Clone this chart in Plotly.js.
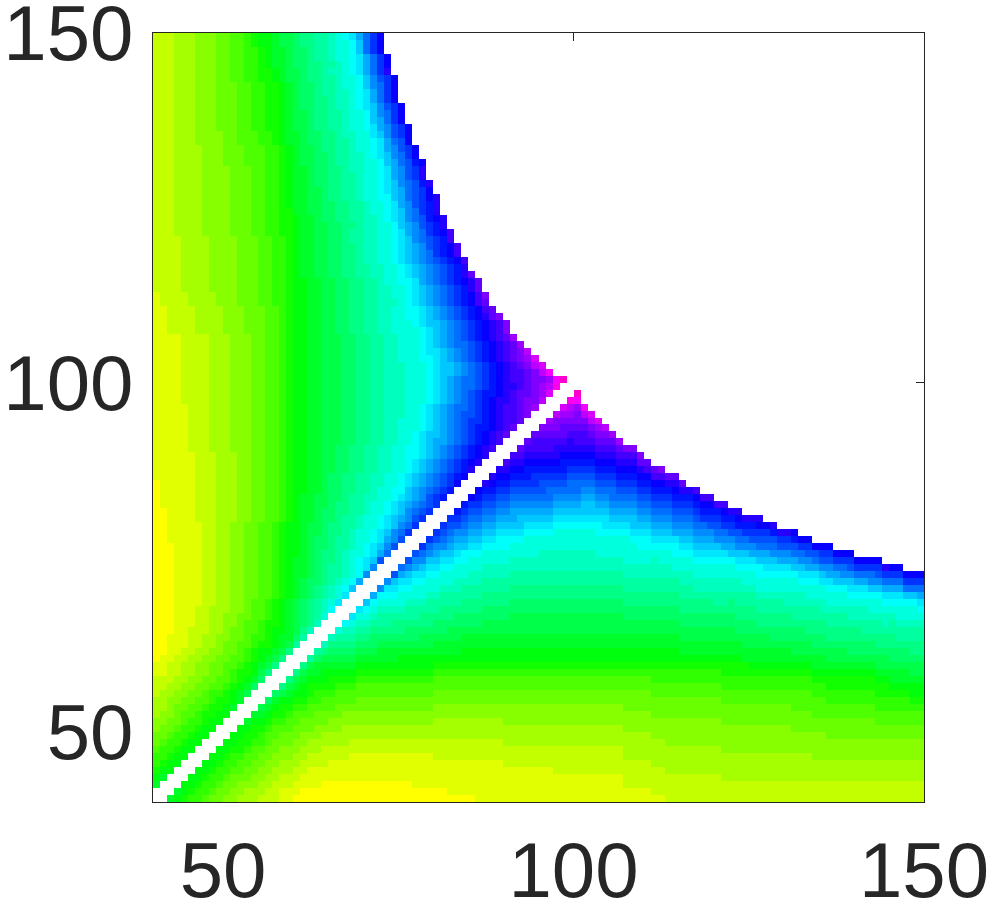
<!DOCTYPE html>
<html>
<head>
<meta charset="utf-8">
<script src="https://cdn.plot.ly/plotly-3.0.1.min.js"></script>
<style>
  html, body { margin: 0; padding: 0; background: white; }
</style>
</head>
<body>
<div id="plot" style="width:991px;height:905px;"></div>
<script>
// levels, one char per cell, hue = 60 + 7*level
var levelChars = "0123456789abcdefghijklmnopqrstuvwxyzA";
var axisStart = 40;
var axisEnd = 150;
var tickValues = [50, 100, 150];
var tickLabels = ["50", "100", "150"];

// cells left of the white diagonal, first row is y=149 (cell j=109), last is j=2
// the picture is symmetric about the diagonal (staircases match cell for cell)
var rowsAboveDiagonal = [
"2223334445 5667899abb cddeefghik moq",
"2223334445 5667899abb cddeefgghj moq",
"2223334445 5667789aab ccdeefgghj moq",
"2223334445 5667789aab ccdeefgghi kmoq",
"2223334445 5667789aab ccddeefghi kmoq",
"2223334445 56677889ab bcddeffghi kmor",
"2223334445 56677889ab bcddeefggh jlnoq",
"2223334445 556677889a bccdeefggh jlmoq",
"2223334445 556677889a bccdeeffgh ikmoq",
"2223334445 556677889a bccddeffgh ikmoq",
"2223334445 556677889a bccddeffgh ijlnoq",
"2223334445 556677889a bbcddeefgg hjlmoq",
"2223334445 556677889a bbcddeefgg hjkmoq",
"2223334445 556677889a bbcddeefgg hiklnoq",
"2223334444 556667789a abccddeffg gijlnoq",
"2223334444 556667789a abccddeefg ghikmnq",
"2223333444 5556667789 abbcddeefg ghiklnoq",
"2223333444 5556667789 abbccdeeff ghijlmoq",
"2223333444 5556667789 abbccdeeff gghjkmnpq",
"2223333444 4555667789 aabccddeff gghiklnor",
"2223333444 4555667789 aabccddeef gghiklnor",
"2223333444 4555667789 aabccddeef gghijlmnpr",
"2223333444 4555667789 aabbcddeef gghijkmnoq",
"2223333444 4555667789 aabbcddeef gghhjkmnoqr",
"2223333444 4555667789 aabbccddee fgghiklnopr",
"2223333444 4555667788 aabbccddee fgghijlmopr",
"2223333444 4555667788 9aabccddee ffghijlmnpqr",
"2223333444 4555667788 9aabbccdde ffgghjklnopr",
"2223333444 4555667788 9aabbccdee ffgghiklmopqs",
"2222333344 4455566778 9aabbccdee ffgghijlmnops",
"2222333344 4455566778 9aabbccdde ffgghijklnopqs",
"2222333344 4455566778 9aabbccdde ffgghijklmopqs",
"2222333344 4455566778 9aabbccdde ffgghijklmnopqs",
"2222333344 4455566778 9aabbccdde effgghijklmnopr",
"2222333344 4455566778 9aabbccdde effgghijklmnoprt",
"2222333344 4455566778 99aabbccdd eefgghhiklmnopqrt",
"2222333344 4455566778 99aabbccdd eeffgghijklmnoprt",
"1222233334 4455566778 99aabbccdd eeffgghijklmnopqsu",
"1222233334 4455566778 99aabbccdd eefffghijklmnopqst",
"1122223333 4445556678 99aabbccdd eeffgghhijklmnopqst",
"1122223333 4445556678 99aabbccdd eeffgghhijklmnopqrtu",
"1122223333 4445556678 99aabbccdd eeffggghijjklmnopqrsu",
"1122223333 4445556678 99aabbccdd eeffgggghijklmnopqrsu",
"1111222233 3444556678 99aabbbccd deeffggghijklmnopqrstv",
"1111222233 3444556678 99aabbbccd deeffggghijklmmnopqrstv",
"1111222233 3444556678 99aabbbccd deeffggghiijklmnopqrstuw",
"1111222233 3444556678 99aabbbccd deeffggghhijklmnopqrstuvx",
"1111222233 3444556678 99aabbbccd deefffggghijjklmnopqrstuwx",
"1111222233 3444556678 99aabbbccd deefffggghijjklmnopqrsstuwy",
"1111222233 3444556678 99aabbbccd deefffggghijklmmnopqrsstuuvyA",
"1111222233 3444556678 99aabbbccd deefffggghijklmmnopqrrstuvwz",
"1111222233 3444556678 99aabbbccd deefffggghijklmnoppqrsttuvx",
"1111222233 3444556678 99aabbbccd deefffggghijklmnopqrrstuuw",
"1111122233 3444556678 99aabbbccd deefffgghijklmmnopqrsstuv",
"1111122233 3444556678 99aabbbccd deefffgghijklmnnopqrsstu",
"1111122233 3444556678 99aabbbccd deeffggghijklmnoopqrsst",
"1111122233 3444556678 99aabbbccd deeffggghijklmnoppqrst",
"1111122233 3444556678 99aabbbccd deeffgghijjklmnopqrst",
"1111122233 3444556678 99aabbbccd deeffgghijkklmnopqrs",
"1111122233 3444556678 99aabbccdd eeffgghhijklmnopqrs",
"1111112223 3344556678 99aabbccdd eeffgghhijklmnopqr",
"1111112223 3344556678 99aabbccdd eeffgghijklmnopqr",
"1111112223 3344556678 99aabbccdd eeffgghijklmnopr",
"1111112223 3344556678 99aabccdde effgghijklmnopq",
"0111112223 3344556678 99aabccdde effgghijklmnoq",
"0111112223 3344556678 99aabccdde efgghhjklmnop",
"0111112223 3344556678 9aabbccdee ffgghijklnop",
"0111112223 3344556678 9aabbcddee fgghijklmno",
"0011112223 3344556678 9aabccddee fgghijlmno",
"0011112223 3344556678 9aabccdeef gghijklno",
"0011111223 3445566789 9abbcddeef gghijlmo",
"0011111223 3445566789 9abbcddefg ghijlmo",
"0011111223 3445566789 9abccdeefg ghikln",
"0001111223 3445566789 9abccdeefg hijln",
"0001111223 3445566789 9abcddefgg hikm",
"0001111223 3445566789 aabcddefgh ijn",
"0001111223 3445566789 aabcdeefgh il",
"0001111223 3445566789 aabcdeefgh l",
"0001111223 3445566789 abccdefghk",
"0001111223 3445566789 abcdefghj",
"0001111223 3445566789 abcdefgi",
"0001111223 344566789a bcdefgi",
"0001112233 344566789a bcdefh",
"0001112233 445566789a bcdeg",
"0001112233 445667889a bcdf",
"0001122233 455667899a bdf",
"0011122334 45567789aa ce",
"0011122334 55667889ab e",
"0011223344 5567899abd",
"0112233445 566789abd",
"1122334455 66789abd",
"1122334455 67889bd",
"2223344556 6789ac",
"2233445566 789ac",
"2334455677 89ab",
"3344556678 89a",
"3345566788 9a",
"34456678899",
"4455677899",
"455677899",
"55677899",
"5677899",
"677899",
"77899",
"7899",
"899",
"9a",
"a"
];

var nCells = axisEnd - axisStart;
var z = [];
for (var j = 0; j < nCells; j++) {
  z.push([]);
  for (var i = 0; i < nCells; i++) z[j].push(null);
}
for (var r = 0; r < rowsAboveDiagonal.length; r++) {
  var row = rowsAboveDiagonal[r].replace(/ /g, "");
  var rowIndex = nCells - 1 - r;
  for (var c = 0; c < row.length; c++) {
    var level = levelChars.indexOf(row[c]);
    z[rowIndex][c] = level;
    z[c][rowIndex] = level;
  }
}

var trace = {
  type: 'heatmap',
  z: z,
  x0: axisStart + 0.5,
  dx: 1,
  y0: axisStart + 0.5,
  dy: 1,
  zmin: 0,
  zmax: levelChars.length - 1,
  showscale: false,
  hoverongaps: false,
  colorscale: [
    [0, '#ffff00'],
    [0.2381, '#00ff00'],
    [0.4762, '#00ffff'],
    [0.7143, '#0000ff'],
    [0.9524, '#ff00ff'],
    [1, '#ff00cc']
  ]
};

function axisStyle() {
  return {
    range: [axisStart, axisEnd],
    tickmode: 'array',
    tickvals: tickValues,
    ticktext: tickLabels,
    ticks: 'inside',
    ticklen: 8,
    tickwidth: 1,
    tickcolor: '#262626',
    showline: true,
    linecolor: '#262626',
    linewidth: 1,
    mirror: 'ticks',
    showgrid: false,
    zeroline: false,
    layer: 'below traces',
    ticklabeloverflow: 'allow',
    tickfont: { family: 'Liberation Sans, Arial, sans-serif', size: 78, color: '#262626' }
  };
}

var layout = {
  width: 991,
  height: 905,
  margin: { l: 153, r: 67, t: 33, b: 103, pad: 0 },
  paper_bgcolor: 'white',
  plot_bgcolor: 'white',
  showlegend: false,
  xaxis: axisStyle(),
  yaxis: axisStyle()
};
layout.yaxis.ticklabelstandoff = 3;

Plotly.newPlot('plot', [trace], layout, { displayModeBar: false, responsive: false });
</script>
</body>
</html>
